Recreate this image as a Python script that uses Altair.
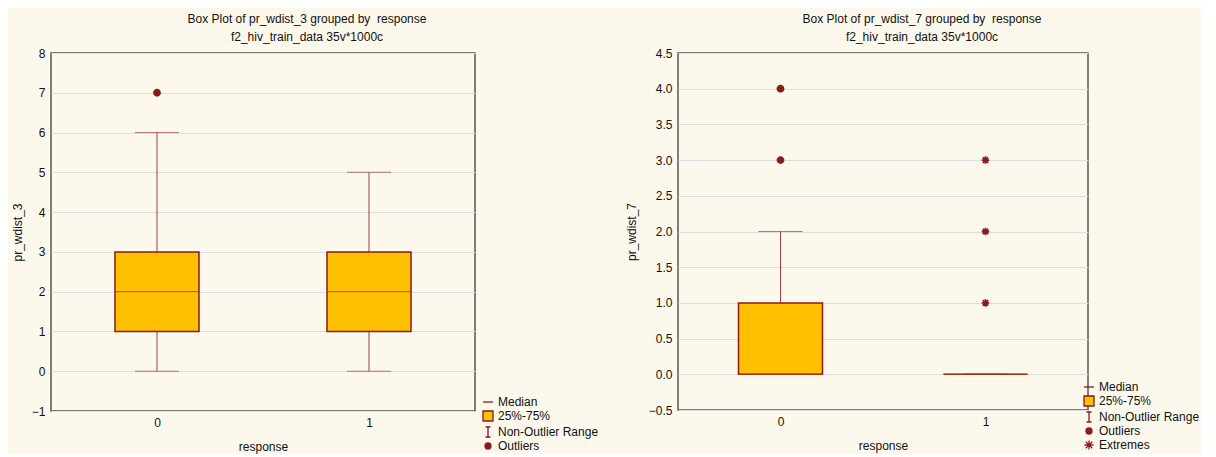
import altair as alt
import pandas as pd

# ---------------- data ----------------
cats = ["0", "1"]

# left panel: pr_wdist_3
l_q1 = [1, 1]
l_med = [2, 2]
l_q3 = [3, 3]
l_lo = [0, 0]
l_hi = [6, 5]
l_out_cat = ["0"]
l_out_val = [7]
l_ticks = [-1, 0, 1, 2, 3, 4, 5, 6, 7, 8]

# right panel: pr_wdist_7
r_q1 = [0, 0]
r_med = [0, 0]
r_q3 = [1, 0]
r_lo = [0, 0]
r_hi = [2, 0]
r_out_cat = ["0", "0"]
r_out_val = [3, 4]
r_ext_cat = ["1", "1", "1"]
r_ext_val = [1, 2, 3]
r_ticks = [-0.5, 0.0, 0.5, 1.0, 1.5, 2.0, 2.5, 3.0, 3.5, 4.0, 4.5]

legend_items_l = ["Median", "25%-75%", "Non-Outlier Range", "Outliers"]
legend_items_r = ["Median", "25%-75%", "Non-Outlier Range", "Outliers", "Extremes"]

# ---------------- style ----------------
FONT = "Liberation Sans"
DARK = "#8B1A1A"
BOXFILL = "#FFC000"
MEDCOL = "#A8400C"
WHISK = "#A04040"

CIRCLE = "M0,-0.6A0.6,0.6 0 1,1 0,0.6A0.6,0.6 0 1,1 0,-0.6Z"
ASTER = "M-0.9,0H0.9M0,-0.9V0.9M-0.65,-0.65L0.65,0.65M-0.65,0.65L0.65,-0.65"
SYM = {
    "Median": "M-1,0H1",
    "25%-75%": "square",
    "Non-Outlier Range": "M-0.5,-1H0.5M0,-1V1M-0.5,1H0.5",
    "Outliers": CIRCLE,
    "Extremes": ASTER,
}
FILL = {
    "Median": DARK,
    "25%-75%": BOXFILL,
    "Non-Outlier Range": DARK,
    "Outliers": DARK,
    "Extremes": DARK,
}


def panel(title, ytitle, q1, med, q3, lo, hi, out_cat, out_val, ext_cat, ext_val,
          ydom, yticks, yfmt, width, height, title_dx, items, legx, legy, ytp):
    box_df = pd.DataFrame({"response": cats, "q1": q1, "med": med, "q3": q3,
                           "lo": lo, "hi": hi})
    xenc = alt.X("response:O",
                 scale=alt.Scale(type="point", padding=0.5),
                 axis=alt.Axis(title="response", labelAngle=0, ticks=False,
                               domain=False, grid=False, labelPadding=6,
                               titlePadding=13))
    yscale = alt.Scale(domain=ydom, nice=False, zero=False)
    yaxis = alt.Axis(values=yticks, format=yfmt, ticks=False, domain=False,
                     labelPadding=6, titlePadding=ytp)

    def Y(f):
        return alt.Y(f, scale=yscale, axis=yaxis, title=ytitle)

    base = alt.Chart(box_df)
    w_lo = base.mark_rule(color=WHISK, strokeWidth=1).encode(
        x=xenc, y=Y("lo:Q"), y2="q1:Q")
    w_hi = base.mark_rule(color=WHISK, strokeWidth=1).encode(
        x=xenc, y=Y("q3:Q"), y2="hi:Q")
    cap_lo = base.mark_tick(color=WHISK, size=44, thickness=1).encode(
        x=xenc, y=Y("lo:Q"))
    cap_hi = base.mark_tick(color=WHISK, size=44, thickness=1).encode(
        x=xenc, y=Y("hi:Q"))
    box = base.mark_bar(size=84, fill=BOXFILL, stroke=DARK,
                        strokeWidth=1.5).encode(
        x=xenc, y=Y("q1:Q"), y2="q3:Q")
    medl = base.mark_tick(color=MEDCOL, size=84, thickness=1.3).encode(
        x=xenc, y=Y("med:Q"))
    layers = [w_lo, w_hi, cap_lo, cap_hi, box, medl]

    if out_cat:
        out_df = pd.DataFrame({"response": out_cat, "v": out_val})
        layers.append(alt.Chart(out_df).mark_point(
            shape=CIRCLE, filled=True, color=DARK, size=170, opacity=1).encode(
            x=xenc, y=Y("v:Q")))
    if ext_cat:
        ext_df = pd.DataFrame({"response": ext_cat, "v": ext_val})
        layers.append(alt.Chart(ext_df).mark_point(
            shape=ASTER, filled=False, color=DARK, size=70, strokeWidth=1.8,
            opacity=1).encode(x=xenc, y=Y("v:Q")))

    leg = alt.Legend(title=None, orient="none", legendX=legx, legendY=legy,
                     labelFont=FONT, labelFontSize=12, labelColor="#111",
                     symbolSize=100, symbolStrokeWidth=1.3, rowPadding=0,
                     labelOffset=4, symbolOpacity=1)
    leg_df = pd.DataFrame({"item": items})
    legend_layer = alt.Chart(leg_df).transform_filter("false").mark_point(
        filled=True, opacity=1).encode(
        shape=alt.Shape("item:N", scale=alt.Scale(domain=items,
                        range=[SYM[i] for i in items]), legend=leg),
        fill=alt.Fill("item:N", scale=alt.Scale(domain=items,
                      range=[FILL[i] for i in items]), legend=leg),
        stroke=alt.Stroke("item:N", scale=alt.Scale(domain=items,
                          range=[DARK for _ in items]), legend=leg),
    )
    layers.append(legend_layer)

    return alt.layer(*layers).properties(
        width=width, height=height,
        title=alt.Title(text=title, font=FONT, fontSize=12,
                        fontWeight="normal", color="#111", anchor="middle",
                        dx=title_dx, offset=3, lineHeight=18),
    ).resolve_scale(shape="independent", fill="independent",
                    stroke="independent")


NB = "\u00a0"
left = panel(["Box Plot of pr_wdist_3 grouped by" + NB + NB + "response",
              "f2_hiv_train_data 35v*1000c"], "pr_wdist_3",
             l_q1, l_med, l_q3, l_lo, l_hi, l_out_cat, l_out_val, [], [],
             [-1, 8], l_ticks, "d", 424, 358, 44, legend_items_l, 431, 343, 7)
right = panel(["Box Plot of pr_wdist_7 grouped by" + NB + NB + "response",
               "f2_hiv_train_data 35v*1000c"], "pr_wdist_7",
              r_q1, r_med, r_q3, r_lo, r_hi, r_out_cat, r_out_val,
              r_ext_cat, r_ext_val,
              [-0.5, 4.5], r_ticks, ".1f", 410, 357, 39, legend_items_r,
              405, 328, 10)

chart = alt.hconcat(left, right, spacing=24).resolve_scale(
    shape="independent", fill="independent", stroke="independent"
).properties(
    background="#FDF8EC",
    padding={"left": 2, "top": 4, "right": 0, "bottom": 0},
).configure_view(
    stroke="#555", strokeWidth=1.5, fill="white"
).configure_axis(
    labelFont=FONT, labelFontSize=12, labelColor="#111",
    titleFont=FONT, titleFontSize=12, titleFontWeight="normal",
    titleColor="#111", gridColor="#DEDEDE", gridWidth=1,
)

chart.save("out.html", embed_options={"renderer": "svg", "actions": False})
